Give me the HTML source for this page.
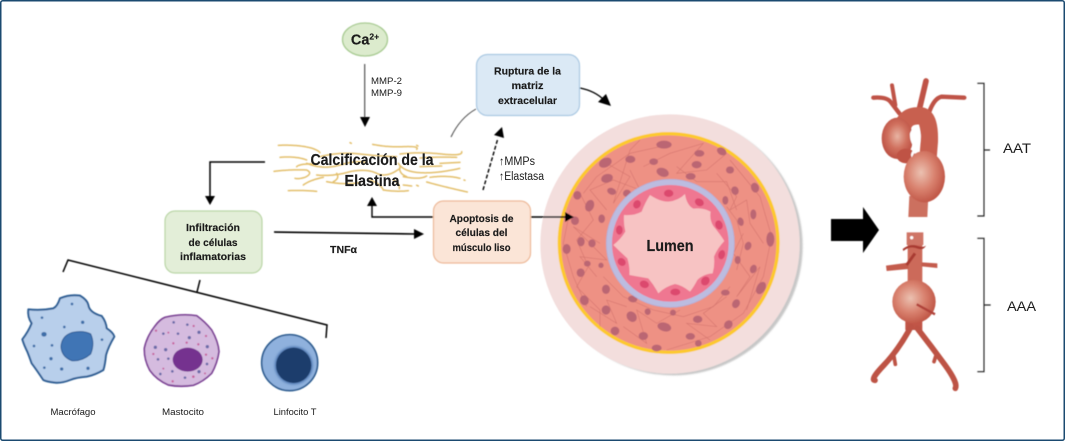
<!DOCTYPE html>
<html lang="es">
<head>
<meta charset="utf-8">
<title>Calcificación de la Elastina</title>
<style>
html,body{margin:0;padding:0;background:#fff;}
body{width:1065px;height:441px;overflow:hidden;}
svg{display:block;}
text{font-family:"Liberation Sans",sans-serif;fill:#1a1a1a;}
.b{font-weight:bold;stroke:#1a1a1a;stroke-width:.15;}
</style>
</head>
<body>
<svg width="1065" height="441" viewBox="0 0 1065 441" xmlns="http://www.w3.org/2000/svg">
<defs>
<filter id="s" x="-5%" y="-5%" width="110%" height="110%"><feGaussianBlur stdDeviation="0.4"/></filter>
<filter id="t" x="-5%" y="-20%" width="110%" height="140%"><feGaussianBlur stdDeviation="0.25"/></filter>
<filter id="sh" x="-10%" y="-10%" width="120%" height="120%"><feGaussianBlur stdDeviation="2"/></filter>
<filter id="n" x="-20%" y="-20%" width="140%" height="140%"><feGaussianBlur stdDeviation="3"/></filter>
<radialGradient id="ao1" cx="50%" cy="45%" r="55%"><stop offset="0" stop-color="#e8b4a3"/><stop offset=".55" stop-color="#d0705e"/><stop offset="1" stop-color="#bb4f42"/></radialGradient>
<radialGradient id="ao2" cx="42%" cy="42%" r="60%"><stop offset="0" stop-color="#ebc1b1"/><stop offset=".55" stop-color="#d9826f"/><stop offset="1" stop-color="#c05646"/></radialGradient>
</defs>

<rect x="0.75" y="0.75" width="1063.5" height="439.5" rx="2" fill="#fff" stroke="#1b4a70" stroke-width="1.5"/>

<g filter="url(#s)">
<!-- elastin fibres -->
<g transform="translate(260,0) scale(.33333)" fill="none" stroke="#e3bf6c" stroke-width="4.5" stroke-linecap="round" stroke-dasharray="6 1.5">
<path d="M55,436 Q100,434 135,440 T180,458"/>
<path d="M338,433 Q380,442 430,440 T470,448"/>
<path d="M60,472 Q110,468 140,480"/>
<path d="M42,514 Q90,508 140,510 Q160,520 135,532 Q115,538 105,535"/>
<path d="M85,572 Q125,570 170,574"/>
<path d="M420,462 Q480,455 545,462 T605,455"/>
<path d="M480,474 Q530,470 590,472"/>
<path d="M140,490 Q190,510 240,495 T320,488"/>
<path d="M170,525 Q220,530 270,515 Q320,505 350,520 T420,505"/>
<path d="M415,490 Q430,515 480,518 T600,505"/>
<path d="M370,570 Q410,576 445,572"/>
<path d="M500,546 Q550,560 622,576"/>
<path d="M330,540 Q360,550 370,570"/>
<path d="M430,530 Q480,540 500,528"/>
<path d="M430,555 L455,558"/>
<path d="M470,436 L474,438 M270,428 L274,430 M612,540 L615,541 M470,556 L475,558 M480,500 L545,498"/>
<path d="M200,545 Q250,555 300,548"/>
<path d="M180,470 Q240,455 300,462 T410,470"/>
<path d="M130,555 Q150,540 190,532"/>
<path d="M420,500 Q415,520 440,530"/>
<path d="M510,532 Q560,525 600,535"/>
<path d="M110,500 Q120,490 170,492"/>
<path d="M220,545 Q240,535 230,520"/>
<path d="M400,540 Q420,550 418,566"/>
<path d="M540,490 L600,487"/>
</g>

<!-- vessel -->
<g transform="translate(530,110) scale(.33333)">
<circle cx="430" cy="408" r="388" fill="#999" opacity=".55" filter="url(#sh)"/>
<circle cx="420" cy="402" r="389" fill="#f3dedd"/>
<circle cx="416" cy="399" r="328" fill="#ee9184" stroke="#fdc92f" stroke-width="10"/>
<g fill="none" stroke="#bf5f5c" stroke-width="1.8" opacity=".55">
<path d="M150,250L190,330L140,390L175,470L140,530L210,600L210,650"/>
<path d="M230,160L300,200L250,280L300,120L330,90"/>
<path d="M340,170L420,130L520,100L440,190L530,180L590,130"/>
<path d="M560,190L620,260L600,300L650,270L660,340L700,400"/>
<path d="M640,370L610,430L660,500L620,560L690,470L650,600"/>
<path d="M590,560L520,610L560,650L470,640L540,690"/>
<path d="M450,600L380,640L320,600L350,700L280,650"/>
<path d="M290,590L230,570L260,640L180,590"/>
<path d="M200,500L150,440L230,450L130,350L210,400"/>
<path d="M230,300L180,240L250,210L330,240L300,180"/>
<path d="M440,170L500,215L590,215L620,300"/>
<path d="M220,500L280,560L370,600L460,620L550,590L600,530"/>
<path d="M620,480L640,400L620,330L590,290"/>
<path d="M120,300L100,400L130,500L170,590"/>
<path d="M390,110L300,130L200,200L160,250"/>
<path d="M600,150L690,260L725,380L700,500L640,610L540,680L410,720"/>
</g>
<g fill="#bb6673">
<ellipse cx="402" cy="104" rx="23" ry="12"/><ellipse cx="508" cy="130" rx="15" ry="10"/><ellipse cx="575" cy="124" rx="15" ry="11" transform="rotate(30 575 124)"/><ellipse cx="226" cy="158" rx="20" ry="14" transform="rotate(-25 226 158)"/><ellipse cx="301" cy="148" rx="15" ry="11"/><ellipse cx="371" cy="155" rx="13" ry="10"/><ellipse cx="500" cy="164" rx="15" ry="11"/><ellipse cx="600" cy="180" rx="12" ry="11"/><ellipse cx="398" cy="187" rx="19" ry="13" transform="rotate(20 398 187)"/><ellipse cx="482" cy="199" rx="15" ry="10"/><ellipse cx="231" cy="205" rx="18" ry="13" transform="rotate(-15 231 205)"/><ellipse cx="142" cy="256" rx="12" ry="13"/><ellipse cx="179" cy="287" rx="13" ry="18" transform="rotate(20 179 287)"/><ellipse cx="245" cy="244" rx="14" ry="10" transform="rotate(20 245 244)"/><ellipse cx="291" cy="250" rx="12" ry="11"/><ellipse cx="615" cy="242" rx="11" ry="13" transform="rotate(-20 615 242)"/><ellipse cx="675" cy="233" rx="12" ry="15" transform="rotate(-20 675 233)"/><ellipse cx="586" cy="271" rx="9" ry="13"/><ellipse cx="670" cy="313" rx="9" ry="15"/><ellipse cx="632" cy="335" rx="9" ry="13" transform="rotate(-15 632 335)"/><ellipse cx="721" cy="388" rx="12" ry="22"/><ellipse cx="654" cy="408" rx="10" ry="13" transform="rotate(20 654 408)"/><ellipse cx="623" cy="450" rx="9" ry="12"/><ellipse cx="670" cy="477" rx="10" ry="13" transform="rotate(20 670 477)"/><ellipse cx="693" cy="534" rx="13" ry="20" transform="rotate(30 693 534)"/><ellipse cx="586" cy="548" rx="13" ry="9"/><ellipse cx="618" cy="581" rx="11" ry="14" transform="rotate(30 618 581)"/><ellipse cx="503" cy="628" rx="14" ry="11"/><ellipse cx="595" cy="644" rx="12" ry="14" transform="rotate(40 595 644)"/><ellipse cx="481" cy="679" rx="14" ry="10"/><ellipse cx="505" cy="700" rx="10" ry="10"/><ellipse cx="403" cy="651" rx="21" ry="13" transform="rotate(15 403 651)"/><ellipse cx="340" cy="678" rx="14" ry="12"/><ellipse cx="380" cy="714" rx="15" ry="10"/><ellipse cx="255" cy="663" rx="13" ry="13"/><ellipse cx="305" cy="620" rx="14" ry="17" transform="rotate(-40 305 620)"/><ellipse cx="353" cy="605" rx="9" ry="10"/><ellipse cx="429" cy="608" rx="9" ry="9"/><ellipse cx="228" cy="600" rx="13" ry="14"/><ellipse cx="163" cy="571" rx="13" ry="15" transform="rotate(-20 163 571)"/><ellipse cx="308" cy="567" rx="14" ry="10" transform="rotate(10 308 567)"/><ellipse cx="228" cy="538" rx="12" ry="14"/><ellipse cx="152" cy="488" rx="12" ry="13"/><ellipse cx="172" cy="461" rx="10" ry="9"/><ellipse cx="213" cy="466" rx="8" ry="8"/><ellipse cx="110" cy="417" rx="12" ry="15"/><ellipse cx="153" cy="395" rx="11" ry="14"/><ellipse cx="186" cy="400" rx="11" ry="12"/><ellipse cx="215" cy="326" rx="10" ry="13"/><ellipse cx="135" cy="332" rx="12" ry="13"/>
</g>
<circle cx="421" cy="400" r="184" fill="#ef7791" stroke="#bcbce0" stroke-width="18"/>
<circle cx="421" cy="400" r="192" fill="none" stroke="#a3a3d0" stroke-width="1.2"/>
<path d="M360,255Q390,275 415,275Q445,272 465,252Q470,285 490,296Q520,292 542,305Q538,330 550,348Q570,372 583,393Q562,415 552,440Q555,465 548,490Q520,492 502,510Q492,530 480,545Q455,525 435,522Q405,530 385,550Q372,525 355,505Q325,500 298,495Q300,470 292,445Q270,425 250,405Q272,388 286,365Q280,340 282,315Q312,318 335,305Q345,278 360,255Z" fill="#f7c3c3"/>
<g fill="#dc4a6e"><ellipse cx="416" cy="250" rx="14" ry="11"/><ellipse cx="508" cy="277" rx="14" ry="11" transform="rotate(30 508 277)"/><ellipse cx="567" cy="345" rx="11" ry="14" transform="rotate(-20 567 345)"/><ellipse cx="575" cy="434" rx="10" ry="14" transform="rotate(15 575 434)"/><ellipse cx="526" cy="513" rx="12" ry="14" transform="rotate(40 526 513)"/><ellipse cx="436" cy="546" rx="15" ry="10"/><ellipse cx="343" cy="523" rx="14" ry="11" transform="rotate(20 343 523)"/><ellipse cx="275" cy="456" rx="13" ry="11" transform="rotate(40 275 456)"/><ellipse cx="268" cy="360" rx="10" ry="14"/><ellipse cx="321" cy="283" rx="11" ry="13" transform="rotate(30 321 283)"/></g>
</g>

<!-- Ca -->
<ellipse cx="365" cy="39.5" rx="22.5" ry="16.5" fill="#dcebcd" stroke="#a8cb92" stroke-width="1.3"/>
<line x1="364.7" y1="64" x2="364.7" y2="120" stroke="#444" stroke-width="1.1"/>
<path d="M360,117L370,117L365,127Z" fill="#000"/>

<!-- boxes -->
<rect x="476.5" y="54.5" width="103" height="61" rx="11" fill="#dbe9f5" stroke="#a9c8e2" stroke-width="1.2"/>
<rect x="433.5" y="201" width="97" height="62" rx="10" fill="#fbe5d7" stroke="#edb896" stroke-width="1.2"/>
<rect x="165" y="211" width="97" height="62" rx="10" fill="#e3eed8" stroke="#b9d5a5" stroke-width="1.2"/>

<!-- connectors -->
<g fill="none" stroke="#000" stroke-width="1.4">
<path d="M265,162H210V197" stroke-width="1.5"/>
<path d="M274,232L415,234" stroke-width="1.6"/>
<path d="M433,217H372V205"/>
<path d="M531,217H566"/>
<path d="M451,137Q460,118 476,109" stroke="#444" stroke-width="1"/>
<path d="M580,88Q595,91 604,100"/>
<path d="M483,190L498,138" stroke-dasharray="4 2"/>
</g>
<g fill="#000">
<path d="M205,196H215L210,205Z"/>
<path d="M414,229L424,234L414,239Z"/>
<path d="M367,206L372,197L377,206Z"/>
<path d="M565,212L574,217L565,222Z"/>
<path d="M598,102L606,94L611,106Z"/>
<path d="M494,135L504,138L502,127Z"/>
</g>

<!-- brace -->
<path d="M63,272L68,260L327,325L326,338M200,280L197,292" fill="none" stroke="#000" stroke-width="1.5"/>

<!-- cells -->
<g transform="translate(0,280) scale(.33333)">
<path d="M85,88Q125,92 160,85Q172,80 180,55Q210,42 240,47Q262,60 265,75Q268,98 305,108Q318,125 320,145Q340,158 343,170Q325,200 318,225Q315,255 310,270Q285,285 260,290Q230,292 210,300Q185,310 165,308Q140,305 130,300Q110,270 95,250Q88,230 82,215Q72,195 67,178Q85,155 95,130Q82,110 85,88Z" fill="#b8cfeb" stroke="#2d5f94" stroke-width="6" stroke-linejoin="round"/>
<path d="M183,200Q185,168 215,158Q250,150 272,162Q285,190 272,222Q245,245 215,242Q185,230 183,200Z" fill="#3f75b5" stroke="#2c5c96" stroke-width="3"/>
<g fill="#3d6ea8"><circle cx="216" cy="72" r="4"/><circle cx="126" cy="113" r="4"/><circle cx="248" cy="127" r="5"/><circle cx="193" cy="141" r="4"/><ellipse cx="132" cy="163" rx="8" ry="7"/><circle cx="306" cy="179" r="4"/><circle cx="102" cy="198" r="4"/><circle cx="156" cy="196" r="4"/><circle cx="153" cy="236" r="5"/><circle cx="133" cy="263" r="4"/><circle cx="185" cy="267" r="5"/><circle cx="264" cy="265" r="5"/></g>

<path d="M495,112Q545,100 590,107Q615,125 635,150Q655,185 657,215Q652,250 635,280Q610,305 580,316Q540,322 505,315Q470,300 450,272Q432,240 433,205Q440,170 465,138Q480,118 495,112Z" fill="#d5bbdf" stroke="#7b3f94" stroke-width="5"/>
<ellipse cx="563" cy="239" rx="45" ry="36" fill="#74318f"/>
<g fill="#6a6aa8"><circle cx="521" cy="127" r="4"/><circle cx="562" cy="134" r="4"/><circle cx="490" cy="161" r="4"/><circle cx="534" cy="161" r="4"/><circle cx="597" cy="157" r="5"/><circle cx="568" cy="173" r="5"/><circle cx="466" cy="202" r="5"/><circle cx="497" cy="209" r="5"/><circle cx="622" cy="200" r="5"/><circle cx="474" cy="238" r="4"/><circle cx="505" cy="236" r="4"/><circle cx="621" cy="252" r="4"/><circle cx="517" cy="274" r="4"/><circle cx="597" cy="275" r="5"/><circle cx="481" cy="282" r="4"/><circle cx="555" cy="293" r="4"/></g>
<g fill="#c7609d"><circle cx="468" cy="152" r="3.5"/><circle cx="505" cy="158" r="3"/><circle cx="581" cy="138" r="3.5"/><circle cx="618" cy="168" r="3.5"/><circle cx="520" cy="190" r="3.5"/><circle cx="560" cy="188" r="3.5"/><circle cx="595" cy="193" r="3.5"/><circle cx="460" cy="222" r="3.5"/><circle cx="618" cy="224" r="3.5"/><circle cx="637" cy="235" r="3.5"/><circle cx="490" cy="266" r="3"/><circle cx="580" cy="290" r="4"/><circle cx="518" cy="304" r="3.5"/><circle cx="615" cy="280" r="3"/></g>

<circle cx="869" cy="248" r="84" fill="#8fb1dd" stroke="#2c5c90" stroke-width="5"/>
<circle cx="881" cy="256" r="57" fill="#4f79b3" filter="url(#n)"/>
<circle cx="881" cy="256" r="53" fill="#1c3c6c"/>
</g>

<!-- big arrow -->
<path d="M831,219H863V207L879,230L863,253V241H831Z" fill="#000"/>

<!-- AAT -->
<g transform="translate(820,70) scale(.33333)">
<g fill="none" stroke="#bf5346" stroke-linecap="round" stroke-linejoin="round">
<path d="M160,83Q200,80 212,96L238,130" stroke-width="13"/>
<path d="M216,46L226,105" stroke-width="12"/>
<path d="M318,33L298,118" stroke-width="17"/>
<path d="M433,83L365,80Q342,85 327,128" stroke-width="13"/>
<path d="M245,185Q250,132 305,138Q330,145 328,215L322,290" stroke-width="52" stroke-linecap="butt" stroke="#c8604f"/>
</g>
<path d="M268,378H325L322,441H265Z" fill="#cc6f5f"/>
<ellipse cx="232" cy="205" rx="47" ry="62" fill="url(#ao1)"/>
<ellipse cx="258" cy="258" rx="28" ry="22" fill="#bf5244"/>
<ellipse cx="313" cy="320" rx="62" ry="77" fill="url(#ao2)"/>
<path d="M285,172Q305,178 302,205Q298,228 275,262Q268,250 285,235Q268,215 270,190Q275,175 285,172Z" fill="#fff"/>
<path d="M472,40H492V438H472M492,240H510" fill="none" stroke="#222" stroke-width="3.5"/>
</g>

<!-- AAA -->
<g transform="translate(820,225) scale(.33333)">
<path d="M260,22H310V60H260Z" fill="#cf7566"/>
<circle cx="275" cy="38" r="5" fill="#fff"/>
<path d="M263,60H307V190H263Z" fill="#cc6a5a"/>
<path d="M198,122L265,113V132L200,138Z" fill="#c45c4d"/>
<path d="M305,112L352,115V129L305,124Z" fill="#c45c4d"/>
<path d="M248,72Q270,55 290,62T318,62Q310,78 290,70T250,78Z" fill="#a93a32"/>
<path d="M260,120L285,85" stroke="#a93a32" stroke-width="9" fill="none"/>
<path d="M256,285H307V315H256Z" fill="#c15546"/>
<ellipse cx="282" cy="230" rx="65" ry="65" fill="url(#ao2)"/>
<path d="M290,238L345,268" stroke="#b0423a" stroke-width="7" fill="none"/>
<g fill="none" stroke="#bd5344" stroke-linecap="round">
<path d="M273,305Q235,375 192,420T165,466" stroke-width="17"/>
<path d="M292,310Q335,365 375,420T406,490" stroke-width="17"/>
<path d="M222,395L226,418M350,385L342,410" stroke-width="11"/>
</g>
<path d="M472,40H492V440H472M492,240H512" fill="none" stroke="#222" stroke-width="3.5"/>
</g>
</g>

<!-- text -->
<g filter="url(#t)">
<text x="365" y="44.5" text-anchor="middle" class="b" font-size="14.5">Ca<tspan font-size="8.5" dy="-5">2+</tspan></text>
<text x="371" y="84" font-size="9" textLength="31" lengthAdjust="spacingAndGlyphs" fill="#333">MMP-2</text>
<text x="371" y="96" font-size="9" textLength="31" lengthAdjust="spacingAndGlyphs" fill="#333">MMP-9</text>

<g text-anchor="middle" class="b" font-size="10.5">
<text x="527.5" y="74.5" textLength="67" lengthAdjust="spacingAndGlyphs">Ruptura de la</text>
<text x="527.5" y="89" textLength="32" lengthAdjust="spacingAndGlyphs">matriz</text>
<text x="527.5" y="104" textLength="59" lengthAdjust="spacingAndGlyphs">extracelular</text>
<text x="481.5" y="222" textLength="64" lengthAdjust="spacingAndGlyphs">Apoptosis de</text>
<text x="481.5" y="236" textLength="52" lengthAdjust="spacingAndGlyphs">células del</text>
<text x="481.5" y="251" textLength="58" lengthAdjust="spacingAndGlyphs">músculo liso</text>
<text x="213" y="231" textLength="54" lengthAdjust="spacingAndGlyphs">Infiltración</text>
<text x="213" y="246" textLength="49" lengthAdjust="spacingAndGlyphs">de células</text>
<text x="213" y="260" textLength="66" lengthAdjust="spacingAndGlyphs">inflamatorias</text>
</g>

<text x="372" y="165" text-anchor="middle" class="b" font-size="16" textLength="123" lengthAdjust="spacingAndGlyphs" fill="#000">Calcificación de la</text>
<text x="372" y="186" text-anchor="middle" class="b" font-size="16" textLength="55" lengthAdjust="spacingAndGlyphs" fill="#000">Elastina</text>

<text x="330" y="253" class="b" font-size="10" textLength="27" lengthAdjust="spacingAndGlyphs">TNFα</text>
<text x="499" y="165" font-size="11.5" textLength="36" lengthAdjust="spacingAndGlyphs">↑MMPs</text>
<text x="499" y="180" font-size="11.5" textLength="45" lengthAdjust="spacingAndGlyphs">↑Elastasa</text>
<text x="670" y="251" text-anchor="middle" class="b" font-size="16" textLength="47" lengthAdjust="spacingAndGlyphs" fill="#000">Lumen</text>

<text x="73" y="415" text-anchor="middle" font-size="9" textLength="45" lengthAdjust="spacingAndGlyphs">Macrófago</text>
<text x="183" y="415" text-anchor="middle" font-size="9" textLength="42" lengthAdjust="spacingAndGlyphs">Mastocito</text>
<text x="295" y="415" text-anchor="middle" font-size="9" textLength="43" lengthAdjust="spacingAndGlyphs">Linfocito T</text>

<text x="1003" y="153" font-size="14" textLength="28" lengthAdjust="spacingAndGlyphs">AAT</text>
<text x="1007" y="311" font-size="14" textLength="29" lengthAdjust="spacingAndGlyphs">AAA</text>
</g>
</svg>
</body>
</html>
